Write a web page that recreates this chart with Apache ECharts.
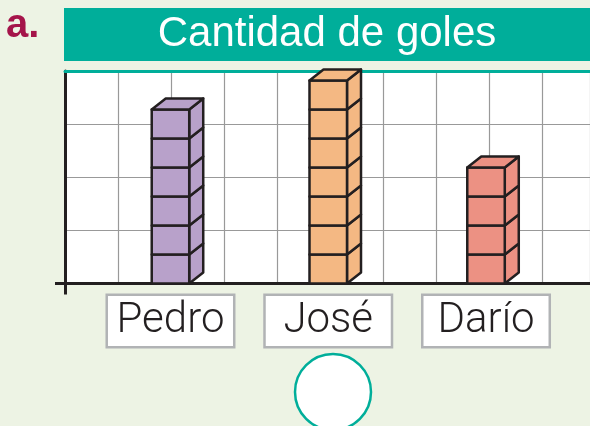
<!DOCTYPE html>
<html>
<head>
<meta charset="utf-8">
<style>
  html, body { margin: 0; padding: 0; background: #edf3e4; }
  #chart { width: 590px; height: 426px; }
</style>
<script src="https://cdn.jsdelivr.net/npm/echarts@6/dist/echarts.min.js"></script>
</head>
<body>
<div id="chart"></div>
<script>
// Goles por jugador: cada cubo es un gol
const jugadores = ['Pedro', 'José', 'Darío'];
const goles = [6, 7, 4];
const coloresCubo = ['#b8a1ca', '#f4b883', '#ec9183'];

const TEAL = '#00ae9a';
const INK = '#231f20';
const GRIS = '#999999';

const chart = echarts.init(document.getElementById('chart'), null, { renderer: 'canvas' });

// Apila n cubos en perspectiva sobre la posición de la categoría
function drawCubes(params, api) {
  const idx = api.value(0);
  const n = api.value(1);
  const base = api.coord([idx, 0]);
  const unit = base[1] - api.coord([idx, 1])[1];
  const w = 37.5, dx = 14, dy = 11;
  const x0 = base[0] - w / 2;
  const style = { fill: coloresCubo[idx], stroke: INK, lineWidth: 2.5, lineJoin: 'round' };
  const children = [];
  let yt = base[1];
  for (let i = 0; i < n; i++) {
    const yb = base[1] - i * unit;
    yt = yb - unit;
    children.push({
      type: 'polygon',
      shape: { points: [[x0 + w, yb], [x0 + w + dx, yb - dy], [x0 + w + dx, yt - dy], [x0 + w, yt]] },
      style: style
    });
    children.push({
      type: 'rect',
      shape: { x: x0, y: yt, width: w, height: unit },
      style: style
    });
  }
  children.push({
    type: 'polygon',
    shape: { points: [[x0, yt], [x0 + dx, yt - dy], [x0 + w + dx, yt - dy], [x0 + w, yt]] },
    style: style
  });
  return { type: 'group', children: children };
}

const hidden = { show: false };

const option = {
  backgroundColor: '#edf3e4',
  animation: false,
  grid: [
    // cuadrícula de fondo
    { left: 65, right: 0, top: 71, bottom: 142.5, show: true, backgroundColor: '#ffffff', borderWidth: 0 },
    // área de los cubos
    { left: 91.6, right: 25.1, top: 71, bottom: 142.5 }
  ],
  xAxis: [
    // líneas verticales de la cuadrícula
    {
      type: 'value', gridIndex: 0, min: 0, max: 9.906, interval: 1,
      axisLine: hidden, axisTick: hidden, axisLabel: hidden,
      splitLine: { show: true, lineStyle: { color: GRIS, width: 1.2 } }
    },
    // borde superior verde
    {
      type: 'value', gridIndex: 0, min: 0, max: 9.906, position: 'top',
      axisLine: { show: true, onZero: false, lineStyle: { color: TEAL, width: 3 } },
      axisTick: hidden, axisLabel: hidden, splitLine: hidden
    },
    // jugadores
    {
      type: 'category', gridIndex: 1, data: jugadores,
      axisLine: hidden, axisTick: hidden, splitLine: hidden,
      axisLabel: {
        interval: 0,
        margin: 12.5,
        fontFamily: 'Roboto',
        fontWeight: 300,
        fontSize: 42,
        color: INK,
        backgroundColor: '#ffffff',
        borderColor: '#b1b3b5',
        borderWidth: 2.5,
        width: 125,
        height: 50,
        lineHeight: 50,
        align: 'center',
        verticalAlign: 'top',
        overflow: 'none'
      }
    },
    // eje horizontal negro con su prolongación hacia abajo
    {
      type: 'value', gridIndex: 0, min: 0, max: 9.906, position: 'bottom',
      axisLine: { show: true, onZero: false, lineStyle: { color: INK, width: 3 } },
      axisTick: { show: true, customValues: [0], length: 11, lineStyle: { color: INK, width: 3 } },
      axisLabel: hidden, splitLine: hidden
    }
  ],
  yAxis: [
    // líneas horizontales de la cuadrícula
    {
      type: 'value', gridIndex: 0, min: 0, max: 4, interval: 1,
      axisLine: hidden, axisTick: hidden, axisLabel: hidden,
      splitLine: { show: true, lineStyle: { color: GRIS, width: 1.2 } }
    },
    // escala de goles
    {
      type: 'value', gridIndex: 1, min: 0, max: 7.33,
      axisLine: hidden, axisTick: hidden, axisLabel: hidden, splitLine: hidden
    },
    // eje vertical negro con su prolongación hacia la izquierda
    {
      type: 'value', gridIndex: 0, min: 0, max: 4, position: 'left',
      axisLine: { show: true, onZero: false, lineStyle: { color: INK, width: 3 } },
      axisTick: { show: true, customValues: [0], length: 10, lineStyle: { color: INK, width: 3 } },
      axisLabel: hidden, splitLine: hidden
    }
  ],
  series: [
    {
      type: 'custom',
      xAxisIndex: 2,
      yAxisIndex: 1,
      renderItem: drawCubes,
      encode: { x: 0, y: 1 },
      data: goles.map((g, i) => [i, g]),
      z: 5
    }
  ],
  graphic: [
    { type: 'rect', shape: { x: 64, y: 8, width: 526, height: 53 }, style: { fill: TEAL }, z: 1 },
    {
      type: 'text', x: 327, y: 34, z: 2,
      style: {
        text: 'Cantidad de goles', fill: '#ffffff',
        font: '42px "Liberation Sans", Arial, sans-serif',
        textAlign: 'center', textVerticalAlign: 'middle'
      }
    },
    {
      type: 'text', x: 6, y: 26, z: 2,
      style: {
        text: 'a.', fill: '#a5144a',
        font: 'bold 40px "Liberation Sans", Arial, sans-serif',
        textAlign: 'left', textVerticalAlign: 'middle'
      }
    },
    {
      type: 'circle', shape: { cx: 333, cy: 392, r: 38 },
      style: { fill: '#ffffff', stroke: TEAL, lineWidth: 2.5 }, z: 2
    }
  ]
};

chart.setOption(option);
</script>
</body>
</html>
